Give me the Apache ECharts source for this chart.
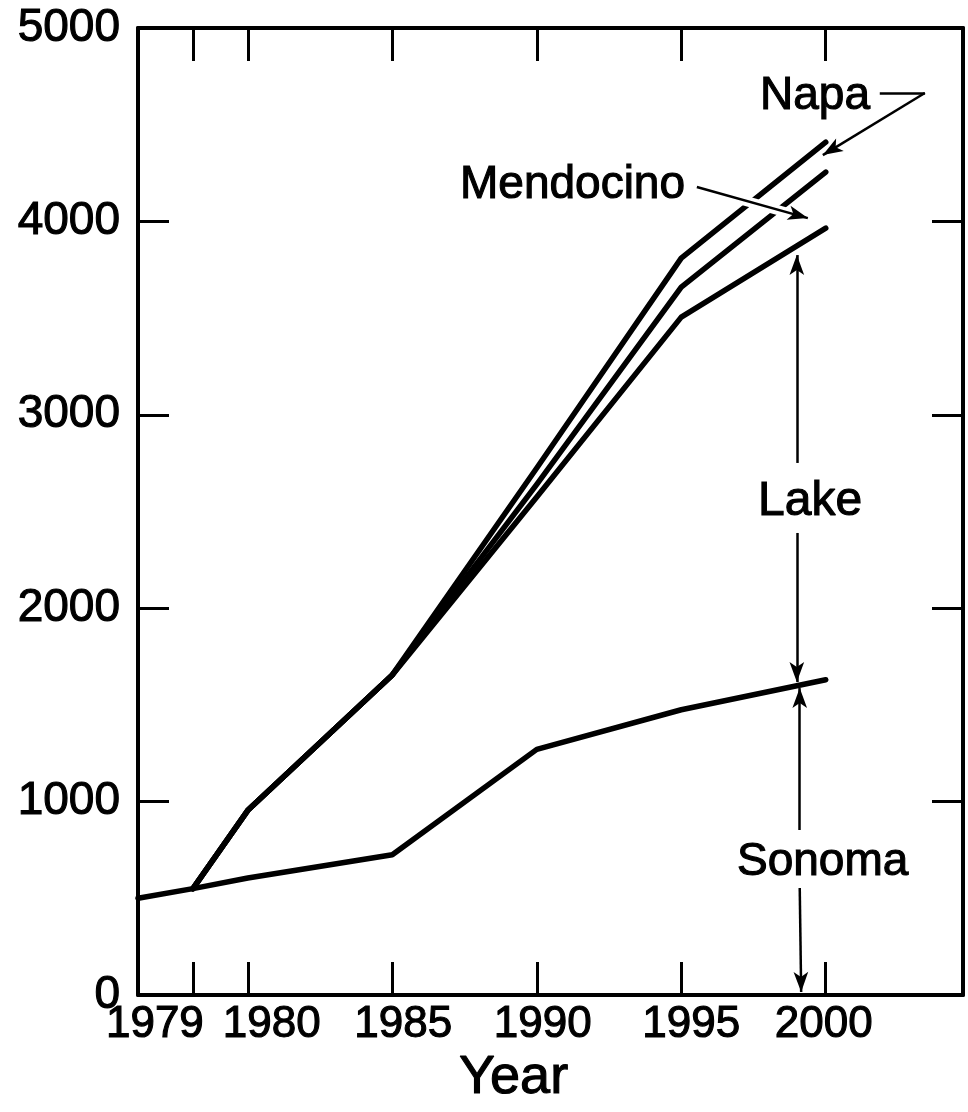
<!DOCTYPE html>
<html>
	<head>
		<meta charset="UTF-8">
		<title>Acreage by county</title>
		<script src="https://cdn.jsdelivr.net/npm/echarts@6/dist/echarts.min.js"></script>
		<style>
			html, body { margin: 0; padding: 0; background: #fff; }
			#chart1 { width: 968px; height: 1112px; }
		</style>
	</head>
	<body>
		<div id="chart1"></div>
	</body>
</html>

<script type="text/javascript">
	// years on the (linear) axis; the "1979" tick sits at 1978.1 in the drawing
	var tickYears = [1978.1, 1980, 1985, 1990, 1995, 2000];
	var tickLabels = ['1979', '1980', '1985', '1990', '1995', '2000'];
	var labelNudge = [-38, 24, 11, 6, 10, -2];   // hand-lettered labels sit off-centre

	// Sonoma line
	var sonomaYears = [1976.2, 1978.1, 1980, 1985, 1990, 1995, 2000];
	var sonomaTotal = [500, 550, 605, 725, 1270, 1475, 1630];

	// upper lines (running totals), they share the first points
	var upperYears = [1978.1, 1980, 1985, 1990, 1995, 2000];
	var lakeTotal = [550, 955, 1655, 2575, 3505, 3965];
	var mendocinoTotal = [550, 955, 1655, 2640, 3660, 4255];
	var napaTotal = [550, 955, 1655, 2725, 3810, 4410];

	var FONT = '"Liberation Sans", Arial, sans-serif';
	var INK = 1.1;   // thin outline to thicken the lettering a little

	function pairs(xs, ys) {
		var out = [];
		for (var i = 0; i < xs.length; i++) out.push([xs[i], ys[i]]);
		return out;
	}

	function lineSeries(name, xs, ys) {
		return {
			name: name,
			type: 'line',
			data: pairs(xs, ys),
			symbol: 'none',
			z: 2,
			lineStyle: { color: '#000', width: 5.5, join: 'round', cap: 'round' }
		};
	}

	function note(text, x, y, size) {
		return {
			type: 'text', x: x, y: y,
			style: {
				text: text, fontSize: size, fontFamily: FONT, fill: '#000',
				stroke: '#000', lineWidth: INK, verticalAlign: 'middle'
			}
		};
	}

	// rich styles that shift each year label sideways
	var rich = {};
	for (var i = 0; i < labelNudge.length; i++) {
		var d = labelNudge[i];
		rich['t' + i] = {
			fontSize: 44, fontFamily: FONT, color: '#000',
			textBorderColor: '#000', textBorderWidth: INK,
			padding: d < 0 ? [0, -2 * d, 0, 0] : [0, 0, 0, 2 * d]
		};
	}

	var tickStyle = { show: true, inside: true, length: 33, lineStyle: { color: '#000', width: 3 } };
	var lineAxis = { show: true, onZero: false, lineStyle: { color: '#000', width: 4 } };

	// arrows, in data coordinates
	var arrows = [
		[{ coord: [2001.87, 4664], symbol: 'none' }, { coord: [2003.43, 4664], symbol: 'none' }],
		[{ coord: [2003.43, 4664], symbol: 'none' }, { coord: [1999.9, 4343], symbol: 'arrow' }],
		[{ coord: [1995.54, 4178], symbol: 'none' }, { coord: [1999.38, 4017], symbol: 'arrow' }],
		[{ coord: [1999.0, 2751], symbol: 'none' }, { coord: [1999.0, 3826], symbol: 'arrow' }],
		[{ coord: [1999.0, 2389], symbol: 'none' }, { coord: [1999.0, 1618], symbol: 'arrow' }],
		[{ coord: [1999.1, 853], symbol: 'none' }, { coord: [1999.1, 1587], symbol: 'arrow' }],
		[{ coord: [1999.1, 553], symbol: 'none' }, { coord: [1999.15, 16], symbol: 'arrow' }]
	];
	// white band where the Mendocino arrow cuts the upper lines
	var gapBand = [
		[{ coord: [1996.4, 4141] }, { coord: [1998.82, 4038] }]
	];

	var chart1 = echarts.init(document.getElementById('chart1'));
	var option = {
		animation: false,
		backgroundColor: '#fff',
		grid: { left: 138, right: 5, top: 28, bottom: 117 },
		xAxis: [{
			type: 'value',
			position: 'bottom',
			min: 1976.2,
			max: 2004.75,
			axisLine: lineAxis,
			axisTick: Object.assign({ customValues: tickYears }, tickStyle),
			splitLine: { show: false },
			axisLabel: {
				customValues: tickYears,
				margin: 8,
				fontSize: 44,
				fontFamily: FONT,
				color: '#000',
				rich: rich,
				formatter: function (v) {
					for (var i = 0; i < tickYears.length; i++) {
						if (Math.abs(v - tickYears[i]) < 0.01) return '{t' + i + '|' + tickLabels[i] + '}';
					}
					return '';
				}
			}
		}, {
			type: 'value',
			position: 'top',
			min: 1976.2,
			max: 2004.75,
			axisLine: lineAxis,
			axisTick: Object.assign({ customValues: tickYears }, tickStyle),
			axisLabel: { show: false },
			splitLine: { show: false }
		}],
		yAxis: [{
			type: 'value',
			position: 'left',
			min: 0,
			max: 5000,
			interval: 1000,
			axisLine: lineAxis,
			axisTick: Object.assign({}, tickStyle, { length: 31 }),
			splitLine: { show: false },
			axisLabel: {
				margin: 18, fontSize: 46, fontFamily: FONT, color: '#000',
				textBorderColor: '#000', textBorderWidth: INK,
				formatter: function (v) { return String(v); }
			}
		}, {
			type: 'value',
			position: 'right',
			min: 0,
			max: 5000,
			interval: 1000,
			axisLine: lineAxis,
			axisTick: Object.assign({}, tickStyle, { length: 31 }),
			axisLabel: { show: false },
			splitLine: { show: false }
		}],
		series: [
			lineSeries('Sonoma', sonomaYears, sonomaTotal),
			lineSeries('Lake', upperYears, lakeTotal),
			lineSeries('Mendocino', upperYears, mendocinoTotal),
			lineSeries('Napa', upperYears, napaTotal),
			{
				type: 'line', data: [], z: 4, silent: true,
				markLine: {
					silent: true, animation: false, symbol: ['none', 'none'],
					label: { show: false },
					lineStyle: { color: '#fff', width: 10, type: 'solid' },
					data: gapBand
				}
			},
			{
				type: 'line', data: [], z: 5, silent: true,
				markLine: {
					silent: true, animation: false, symbol: ['none', 'arrow'], symbolSize: [11, 20],
					label: { show: false },
					lineStyle: { color: '#000', width: 2.5, type: 'solid' },
					itemStyle: { color: '#000' },
					data: arrows
				}
			}
		],
		graphic: [
			note('Napa', 760, 96, 46),
			note('Mendocino', 460, 185, 46),
			note('Lake', 758, 502, 48),
			note('Sonoma', 737, 862, 46),
			note('Year', 459, 1078, 54)
		]
	};

	chart1.setOption(option);
</script>
